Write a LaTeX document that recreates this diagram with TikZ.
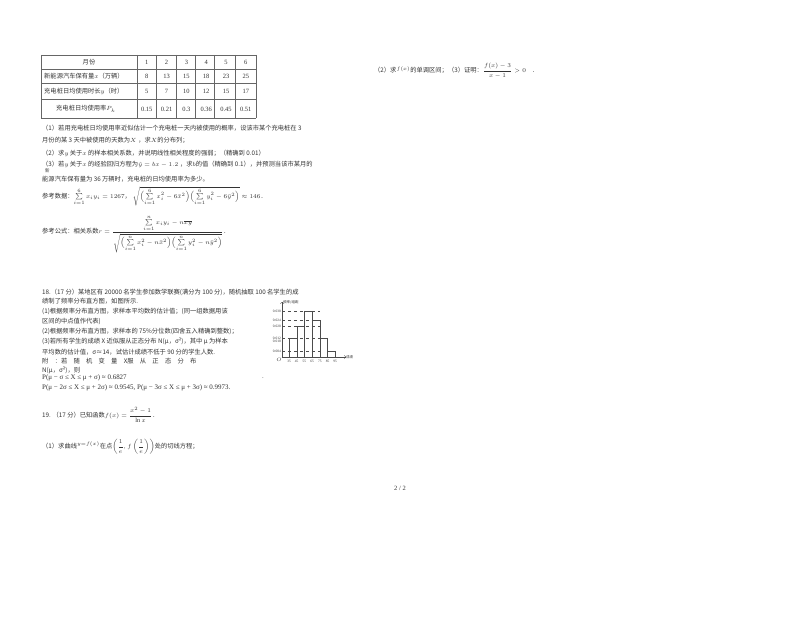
\documentclass[tikz,border=0pt]{standalone}
\usepackage{fontspec}
\usepackage{amsmath}
\setmainfont{Liberation Serif}
\newfontfamily\cjk{Noto Sans CJK SC}
\begin{document}
\begin{tikzpicture}[x=1bp,y=-1bp,
  t/.style={anchor=west,inner sep=0pt,font=\cjk\fontsize{6.3}{7}\selectfont,text=black!80},
  c/.style={anchor=center,inner sep=0pt,font=\fontsize{6.5}{7}\selectfont,text=black!80},
  ln/.style={draw=black!60,line width=0.5bp}]
\useasboundingbox[fill=white] (0,0) rectangle (800,618);
% table
\foreach \x in {41,137,156,176,195,214,235,256} \draw[ln] (\x,55) -- (\x,118);
\foreach \y in {55,69,83,99,118} \draw[ln] (41,\y) -- (256,\y);
\node[c,font=\cjk\fontsize{6.3}{7}\selectfont] (h0) at (89,62) {月份};
\node[t] (h1) at (44,76) {新能源汽车保有量$x$（万辆）};
\node[t] (h2) at (44,91) {充电桩日均使用时长$y$（时）};
\node[t] (h3) at (56,109) {充电桩日均使用率$P_k$};
\foreach \v [count=\i] in {1,...,6} \node[c] (a\i) at ({127+19.8*\i},62) {\v};
\foreach \v [count=\i] in {8,13,15,18,23,25} \node[c] (b\i) at ({127+19.8*\i},76) {\v};
\foreach \v [count=\i] in {5,7,10,12,15,17} \node[c] (d\i) at ({127+19.8*\i},91) {\v};
\foreach \v [count=\i] in {0.15,0.21,0.3,0.36,0.45,0.51} \node[c] (e\i) at ({127+19.8*\i},109) {\v};
\node[t] (q1) at (42,128) {（1）若用充电桩日均使用率近似估计一个充电桩一天内被使用的概率，设该市某个充电桩在 3};
\node[t] (q1b) at (42,140) {月份的某 3 天中被使用的天数为$X$\;，求$X$的分布列；};
\node[t] (q2) at (42,153) {（2）求$y$ 关于$x$ 的样本相关系数，并说明线性相关程度的强弱；（精确到 0.01）};
\node[t] (q3) at (42,164) {（3）若$y$ 关于$x$ 的经验回归方程为$\hat y=bx-1.2$\;，求$b$的值（精确到 0.1），并预测当该市某月的};
\node[t,font=\cjk\fontsize{4.5}{5}\selectfont] (q3n) at (45,171) {新};
\node[t] (q3b) at (42,179) {能源汽车保有量为 36 万辆时，充电桩的日均使用率为多少。};
\node[t] (rd) at (42,196) {参考数据：$\sum\limits_{i=1}^{6}x_iy_i=1267$，\;$\sqrt{\Bigl(\sum\limits_{i=1}^{6}x_i^2-6\bar x^2\Bigr)\Bigl(\sum\limits_{i=1}^{6}y_i^2-6\bar y^2\Bigr)}\approx146$．};
\node[t] (rf) at (42,234) {参考公式：相关系数$r=\dfrac{\sum\limits_{i=1}^{n}x_iy_i-n\overline{xy}}{\sqrt{\Bigl(\sum\limits_{i=1}^{n}x_i^2-n\bar x^2\Bigr)\Bigl(\sum\limits_{i=1}^{n}y_i^2-n\bar y^2\Bigr)}}$．};
% 18
\node[t] (p18) at (42,292) {18.（17 分）某地区有 20000 名学生参加数学联赛(满分为 100 分)，随机抽取 100 名学生的成};
\node[t] (p18b) at (42,301) {绩制了频率分布直方图，如图所示.};
\node[t] (p18c) at (42,311) {(1)根据频率分布直方图，求样本平均数的估计值；(同一组数据用该};
\node[t] (p18d) at (42,321) {区间的中点值作代表)};
\node[t] (p18e) at (42,331) {(2)根据频率分布直方图，求样本的 75\%分位数(四舍五入精确到整数)；};
\node[t] (p18f) at (42,341) {(3)若所有学生的成绩 X 近似服从正态分布 N(μ，σ²)，其中 μ 为样本};
\node[t] (p18g) at (42,352) {平均数的估计值，σ≈14，试估计成绩不低于 90 分的学生人数.};
\node[t] (p18h) at (42,361) {附\quad：若\quad 随\quad 机\quad 变\quad 量\quad X服\quad 从\quad 正\quad 态\quad 分\quad 布};
\node[t] (p18i) at (42,370) {N(μ，σ²)，则};
\node[t,font=\fontsize{7}{8}\selectfont] (p18j) at (42,378) {P(μ − σ ≤ X ≤ μ + σ) ≈ 0.6827};
\node[t] (dot) at (262,378) {.};
\node[t,font=\fontsize{7}{8}\selectfont] (p18k) at (42,388) {P(μ − 2σ ≤ X ≤ μ + 2σ) ≈ 0.9545, P(μ − 3σ ≤ X ≤ μ + 3σ) ≈ 0.9973.};
% histogram
\begin{scope}[line width=0.4bp,draw=black!70]
\draw[->] (282,357) -- (346,357) node[t,font=\cjk\fontsize{3.5}{4}\selectfont,anchor=west] (xl) {成绩};
\draw[->] (282,357) -- (282,302) node[t,font=\cjk\fontsize{3.5}{4}\selectfont,anchor=west,xshift=1] (yl) {频率/组距};
\foreach \i/\h in {0/0.012,1/0.020,2/0.030,3/0.024,4/0.012,5/0.004}
  \draw ({289+7.7*\i},357) rectangle ({289+7.7*(\i+1)},{357-1533*\h});
\foreach \h in {0.030,0.024,0.020,0.012,0.004}
  \draw[dashed,line width=0.3bp] (282,{357-1533*\h}) -- (320,{357-1533*\h});
\foreach \h in {0.030,0.024,0.020,0.012,0.010,0.004}
  \node[c,font=\fontsize{3.5}{4}\selectfont,anchor=east] at (281,{357-1533*\h}) {\h};
\foreach \v [count=\i from 0] in {35,45,55,65,75,85,95}
  \node[c,font=\fontsize{3.5}{4}\selectfont] at ({289+7.7*\i},361) {\v};
\node[c,font=\fontsize{3.5}{4}\selectfont] at (279,360) {$O$};
\end{scope}
% 19
\node[t] (p19) at (42,415) {19.\;（17 分）已知函数$f(x)=\dfrac{x^2-1}{\ln x}$．};
\node[t] (p19a) at (42,447) {（1）求曲线$^{y=f(x)}$在点$\left(\dfrac1e,f\left(\dfrac1e\right)\right)$处的切线方程；};
\node[t] (p19b) at (374,71) {（2）求$^{f(x)}$的单调区间；（3）证明：$\dfrac{f(x)-3}{x-1}>0$\quad．};
\node[c] (pg) at (400,488) {2 / 2};
\end{tikzpicture}
\end{document}
